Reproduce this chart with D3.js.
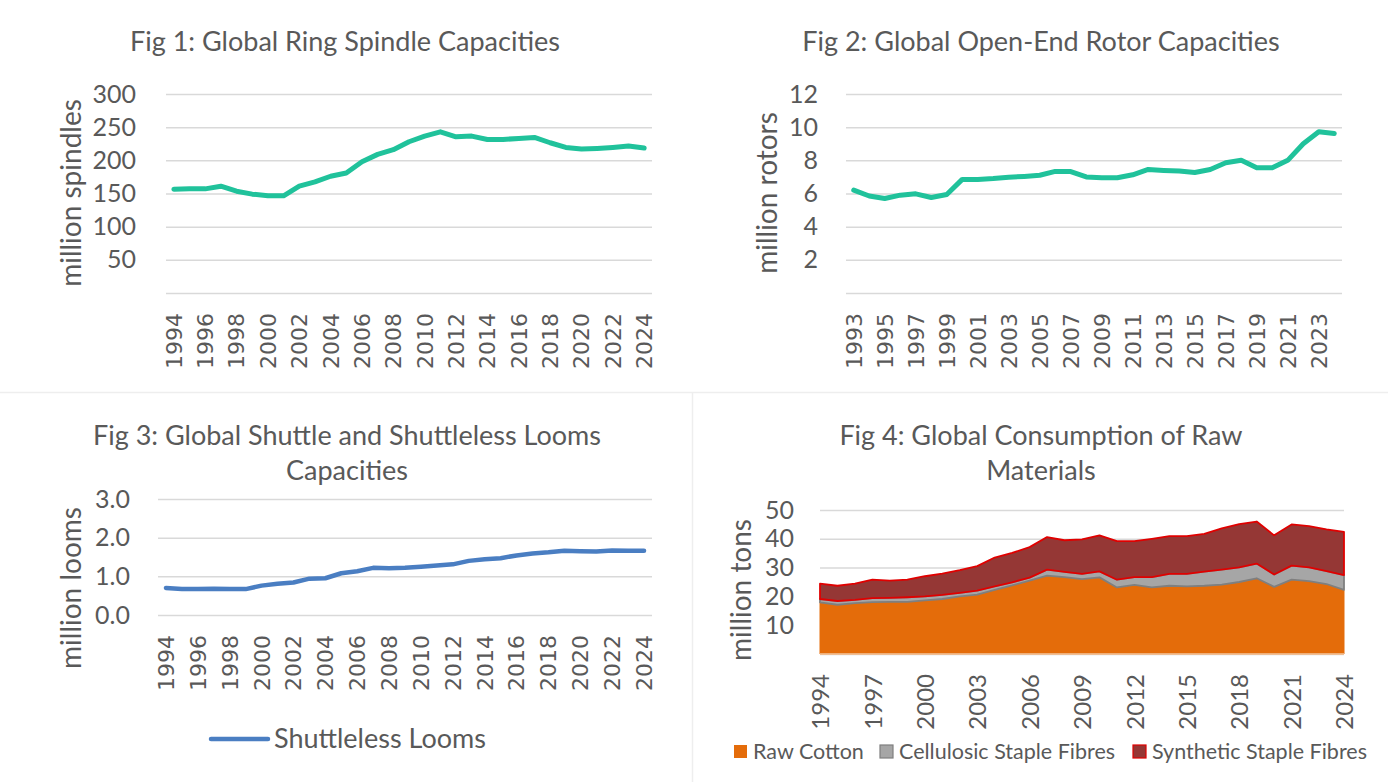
<!DOCTYPE html>
<html>
<head>
<meta charset="utf-8">
<script src="https://cdn.jsdelivr.net/npm/d3@7"></script>
<style>
  body { margin: 0; background: #fff; }
  text { font-family: Lato, "Open Sans", sans-serif; fill: #595959; }
</style>
</head>
<body>
<div id="chart"></div>
<script>
// years shown on the category axes
const years94 = [1994,1995,1996,1997,1998,1999,2000,2001,2002,2003,2004,2005,2006,2007,2008,2009,
  2010,2011,2012,2013,2014,2015,2016,2017,2018,2019,2020,2021,2022,2023,2024]
const years93 = [1993].concat(years94)

// Fig 1: ring spindles (million)
const spindles = [156.5,157,157,161,153.5,149,146.5,146.5,161,167.5,176,181,198,209,216,228,
  236.5,243,235.5,236.5,231.5,231.5,233,234.5,226.5,219.5,217,218,219.5,221.5,218.5]

// Fig 2: open-end rotors (million), 1993-2024
const rotors = [6.2,5.85,5.7,5.9,5.98,5.76,5.94,6.85,6.85,6.9,6.98,7.03,7.1,7.33,7.32,7.0,6.95,
  6.95,7.13,7.45,7.39,7.35,7.27,7.45,7.85,8.0,7.55,7.55,8.0,9.0,9.72,9.62]

// Fig 3: shuttleless looms (million)
const looms = [0.70,0.67,0.67,0.68,0.67,0.67,0.76,0.81,0.84,0.94,0.95,1.08,1.13,1.22,1.21,1.22,
  1.25,1.28,1.31,1.40,1.44,1.47,1.54,1.59,1.62,1.66,1.65,1.64,1.67,1.66,1.66]

// Fig 4: consumption of raw materials (million tons)
const rawCotton = [17.9,17.1,17.7,18.0,18.1,18.1,18.6,19.1,20.0,20.6,22.3,23.8,25.5,27.2,26.7,26.0,
  26.6,23.1,24.0,23.1,23.7,23.5,23.7,24.1,25.0,26.3,23.3,25.8,25.3,24.3,22.3]
const cellulosic = [1.2,1.3,1.1,1.4,1.4,1.6,1.4,1.4,1.2,1.4,1.2,1.1,1.0,2.1,1.8,1.8,
  2.1,2.7,2.7,3.6,4.1,4.3,4.9,5.2,5.1,5.1,4.3,4.9,4.8,4.5,5.1]
const synthetic = [5.3,5.3,5.6,6.4,6.0,6.1,7.0,7.4,7.9,8.5,10.0,10.2,10.6,11.3,11.0,12.0,
  12.5,13.4,12.5,13.3,13.1,13.1,13.1,14.3,15.0,14.6,13.6,14.3,14.3,14.5,15.0]
const fibreNames = ["Raw Cotton", "Cellulosic Staple Fibres", "Synthetic Staple Fibres"]

// tick labels
const ticks1 = [0,50,100,150,200,250,300]
const ticks2 = [0,2,4,6,8,10,12]
const ticks3 = [0,1,2,3]
const ticks4 = [0,10,20,30,40,50]
const yearTicks1 = years94.filter((d,i) => i % 2 == 0)
const yearTicks2 = years93.filter((d,i) => i % 2 == 0)
const yearTicks4 = years94.filter((d,i) => i % 3 == 0)

const svg = d3.select("#chart").append("svg")
  .attr("width", 1388).attr("height", 782)

// panel separators
svg.append("line").attr("x1", 0).attr("x2", 1388).attr("y1", 392.5).attr("y2", 392.5)
  .attr("stroke", "#EEEEEE").attr("stroke-width", 1.5)
svg.append("line").attr("x1", 692.5).attr("x2", 692.5).attr("y1", 392.5).attr("y2", 782)
  .attr("stroke", "#EEEEEE").attr("stroke-width", 1.5)

function title(lines, cx, y0) {
  lines.forEach((t, i) => {
    svg.append("text").attr("x", cx).attr("y", y0 + i * 35)
      .attr("text-anchor", "middle").style("font-size", "27px").text(t)
  })
}

function yTitle(t, cx, cy) {
  svg.append("text").attr("transform", `translate(${cx},${cy}) rotate(-90)`)
    .attr("text-anchor", "middle").attr("dominant-baseline", "central")
    .style("font-size", "28px").text(t)
}

function yAxis(g, y, o) {
  g.append("g").attr("transform", `translate(${o.left},0)`)
    .call(d3.axisLeft(y).tickValues(o.ticks).tickSizeInner(-(o.right - o.left))
      .tickSizeOuter(0).tickPadding(o.left - o.tickX).tickFormat(o.fmt))
    .call(a => a.select(".domain").remove())
    .call(a => a.selectAll("line").attr("stroke", "#D9D9D9").attr("stroke-width", 1.5))
    .call(a => a.selectAll("text").style("font-size", "25px").style("font-family", "Lato")
      .attr("fill", "#595959"))
}

function xAxis(g, x, o) {
  g.append("g").attr("transform", `translate(0,${o.bottom})`)
    .call(d3.axisBottom(x).tickValues(o.yearTicks).tickSize(0))
    .call(a => a.select(".domain").remove())
    .call(a => a.selectAll("text")
      .attr("transform", "rotate(-90)").attr("x", -20).attr("y", 0).attr("dy", "0.36em")
      .attr("text-anchor", "end").attr("fill", "#595959")
      .style("font-size", o.yearSize).style("font-family", o.yearFont))
}

function lineChart(o) {
  const g = svg.append("g")
  const x = d3.scaleBand().domain(o.years).range([o.left, o.right])
  const y = d3.scaleLinear().domain([0, o.max]).range([o.bottom, o.top])
  yAxis(g, y, o)
  xAxis(g, x, o)
  const line = d3.line()
    .x((d, i) => x(o.years[i]) + x.bandwidth() / 2)
    .y(d => y(d))
  g.append("path").datum(o.values).attr("d", line)
    .attr("fill", "none").attr("stroke", o.color).attr("stroke-width", o.width)
    .attr("stroke-linejoin", "round").attr("stroke-linecap", "round")
}

// Fig 1
title(["Fig 1: Global Ring Spindle Capacities"], 345, 51)
yTitle("million spindles", 70, 193)
lineChart({ years: years94, values: spindles, left: 166, right: 652, top: 94, bottom: 293,
  max: 300, ticks: ticks1, tickX: 136, fmt: d => d == 0 ? "" : d, yearTicks: yearTicks1,
  yearSize: "22px", yearFont: "DejaVu Sans", color: "#20C29B", width: 5 })

// Fig 2
title(["Fig 2: Global Open-End Rotor Capacities"], 1041, 51)
yTitle("million rotors", 766, 193)
lineChart({ years: years93, values: rotors, left: 846, right: 1342, top: 94, bottom: 293,
  max: 12, ticks: ticks2, tickX: 818, fmt: d => d == 0 ? "" : d, yearTicks: yearTicks2,
  yearSize: "22px", yearFont: "DejaVu Sans", color: "#20C29B", width: 5 })

// Fig 3
title(["Fig 3: Global Shuttle and Shuttleless Looms", "Capacities"], 347, 445)
yTitle("million looms", 70, 588)
lineChart({ years: years94, values: looms, left: 158, right: 652, top: 499, bottom: 615,
  max: 3, ticks: ticks3, tickX: 130, fmt: d3.format(".1f"), yearTicks: yearTicks1,
  yearSize: "22px", yearFont: "DejaVu Sans", color: "#4A7EC2", width: 4.5 })

const leg3 = svg.append("g")
leg3.append("line").attr("x1", 211).attr("x2", 268).attr("y1", 739).attr("y2", 739)
  .attr("stroke", "#4A7EC2").attr("stroke-width", 4.5).attr("stroke-linecap", "round")
leg3.append("text").attr("x", 274).attr("y", 748).style("font-size", "27px").text("Shuttleless Looms")

// Fig 4
title(["Fig 4: Global Consumption of Raw", "Materials"], 1041, 445)
yTitle("million tons", 740, 590)
{
  const o = { left: 820, right: 1344, top: 510, bottom: 654, ticks: ticks4, tickX: 794,
    fmt: d => d == 0 ? "" : d, yearTicks: yearTicks4, yearSize: "24px", yearFont: "Lato" }
  const g = svg.append("g")
  const x = d3.scalePoint().domain(years94).range([o.left, o.right])
  const y = d3.scaleLinear().domain([0, 50]).range([o.bottom, o.top])
  yAxis(g, y, o)
  xAxis(g, x, o)

  const table = years94.map((yr, i) => ({ year: yr, raw: rawCotton[i], cel: cellulosic[i], syn: synthetic[i] }))
  const stack = d3.stack().keys(["raw", "cel", "syn"])(table)
  const fills = ["#E46C0A", "#A6A6A6", "#953735"]
  const strokes = ["#E46C0A", "#7F7F7F", "#E00000"]
  const area = d3.area()
    .x(d => x(d.data.year)).y0(d => y(d[0])).y1(d => y(d[1]))
  g.selectAll(".layer").data(stack).join("path")
    .attr("d", area)
    .attr("fill", (d, i) => fills[i])
    .attr("stroke", (d, i) => strokes[i])
    .attr("stroke-width", (d, i) => i == 0 ? 1 : 1.8)
    .attr("stroke-linejoin", "round")
  g.append("line").attr("x1", o.left).attr("x2", o.right).attr("y1", o.bottom).attr("y2", o.bottom)
    .attr("stroke", "#F4C7A0").attr("stroke-width", 1.5)

  const legX = [734, 880, 1133]
  const leg = svg.append("g").selectAll("g").data(fibreNames).join("g")
    .attr("transform", (d, i) => `translate(${legX[i]},745)`)
  leg.append("rect").attr("width", 13).attr("height", 13)
    .attr("fill", (d, i) => fills[i]).attr("stroke", (d, i) => strokes[i]).attr("stroke-width", (d, i) => i == 0 ? 0 : 1.2)
  leg.append("text").attr("x", 19).attr("y", 14).style("font-size", "21.5px").text(d => d)
}
</script>
</body>
</html>
